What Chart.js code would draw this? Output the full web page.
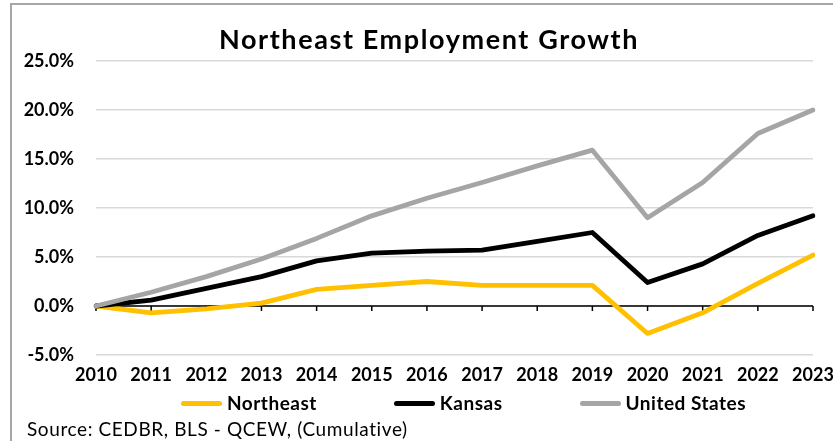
<!DOCTYPE html>
<html>
<head>
<meta charset="utf-8">
<script src="https://cdn.jsdelivr.net/npm/chart.js@4.4.1/dist/chart.umd.min.js"></script>
<style>
  html, body { margin: 0; padding: 0; background: #fff; }
  body { width: 833px; height: 441px; position: relative; overflow: hidden; font-family: Lato, "Open Sans", sans-serif; }
  #frame { position: absolute; left: 10px; top: 3px; width: 900px; height: 500px; border-left: 2px solid #a6a6a6; border-top: 2px solid #a6a6a6; }
  #wrap { position: absolute; left: 0; top: 0; width: 833px; height: 441px; }
  #title { position: absolute; left: 0; width: 858px; top: 20px; text-align: center; font-weight: 700; font-size: 27px; letter-spacing: 1.6px; color: #000; line-height: 38px; }
  #legend { position: absolute; top: 392px; left: 181px; display: flex; font-weight: 700; font-size: 19px; letter-spacing: 0.5px; line-height: 22px; }
  .item { display: flex; align-items: center; }
  .swatch { width: 41px; height: 5px; border-radius: 3px; margin-right: 5px; }
  #source { position: absolute; left: 27px; top: 418px; font-size: 19px; letter-spacing: 0.6px; line-height: 22px; color: #000; }
</style>
</head>
<body>
<div id="frame"></div>
<div id="wrap"><canvas id="chart" width="833" height="441"></canvas></div>
<div id="title">Northeast Employment Growth</div>
<div id="legend"></div>
<div id="source">Source: CEDBR, BLS - QCEW, (Cumulative)</div>
<script>
const years = ["2010", "2011", "2012", "2013", "2014", "2015", "2016", "2017", "2018", "2019", "2020", "2021", "2022", "2023"];
const northeast = [0, -0.7, -0.3, 0.3, 1.7, 2.1, 2.5, 2.1, 2.1, 2.1, -2.8, -0.7, 2.3, 5.2];
const kansas = [0, 0.6, 1.8, 3.0, 4.6, 5.4, 5.6, 5.7, 6.6, 7.5, 2.4, 4.3, 7.2, 9.2];
const unitedStates = [0, 1.4, 3.0, 4.8, 6.9, 9.2, 11.0, 12.6, 14.3, 15.9, 9.0, 12.6, 17.6, 20.0];
const yTicks = [-5, 0, 5, 10, 15, 20, 25];

const SERIES = [
  { label: "Northeast", data: northeast, color: "#ffc000", order: 3 },
  { label: "Kansas", data: kansas, color: "#000000", order: 2 },
  { label: "United States", data: unitedStates, color: "#a5a5a5", order: 1 },
];

const FONT = "Lato, 'Open Sans', sans-serif";

// black zero line with small ticks at every year
const zeroAxis = {
  id: "zeroAxis",
  beforeDatasetsDraw(chart) {
    const { ctx, chartArea, scales } = chart;
    const y0 = scales.y.getPixelForValue(0);
    ctx.save();
    ctx.strokeStyle = "#000";
    ctx.lineWidth = 1.5;
    ctx.beginPath();
    ctx.moveTo(chartArea.left, y0);
    ctx.lineTo(chartArea.right, y0);
    years.forEach((_, i) => {
      const x = scales.x.getPixelForValue(i);
      ctx.moveTo(x, y0);
      ctx.lineTo(x, y0 + 5);
    });
    ctx.stroke();
    ctx.restore();
  },
};

new Chart(document.getElementById("chart"), {
  type: "line",
  data: {
    labels: years,
    datasets: SERIES.map((s) => ({
      label: s.label,
      data: s.data,
      borderColor: s.color,
      backgroundColor: s.color,
      borderWidth: 4.8,
      borderJoinStyle: "round",
      borderCapStyle: "round",
      pointRadius: 0,
      tension: 0,
      order: s.order,
    })),
  },
  options: {
    responsive: false,
    animation: false,
    layout: { padding: { top: 61, right: 20, bottom: 56, left: 0 } },
    plugins: { legend: { display: false }, tooltip: { enabled: false } },
    scales: {
      x: {
        offset: false,
        grid: { display: false, drawTicks: false },
        border: { display: false },
        ticks: {
          color: "#000",
          font: { family: FONT, size: 18, weight: "bold" },
          padding: 9,
          maxRotation: 0,
          autoSkip: false,
        },
        afterFit(scale) {
          scale.height = 30;
          scale.paddingLeft = 0;
          scale.paddingRight = 0;
        },
      },
      y: {
        min: -5,
        max: 25,
        afterBuildTicks(scale) { scale.ticks = yTicks.map((v) => ({ value: v })); },
        grid: { color: "#d9d9d9", lineWidth: 1.5, drawTicks: false },
        border: { display: false },
        ticks: {
          color: "#000",
          padding: 22,
          font: { family: FONT, size: 18, weight: "bold" },
          callback: (v) => `${Number(v).toFixed(1)}%`,
        },
        afterFit(scale) { scale.width = 96; },
      },
    },
  },
  plugins: [zeroAxis],
});

document.getElementById("legend").innerHTML = SERIES.map(
  (s, i) => `
  <div class="item" style="margin-right:${i < SERIES.length - 1 ? 77 : 0}px">
    <span class="swatch" style="background:${s.color}"></span><span>${s.label}</span>
  </div>`
).join("");
</script>
</body>
</html>
